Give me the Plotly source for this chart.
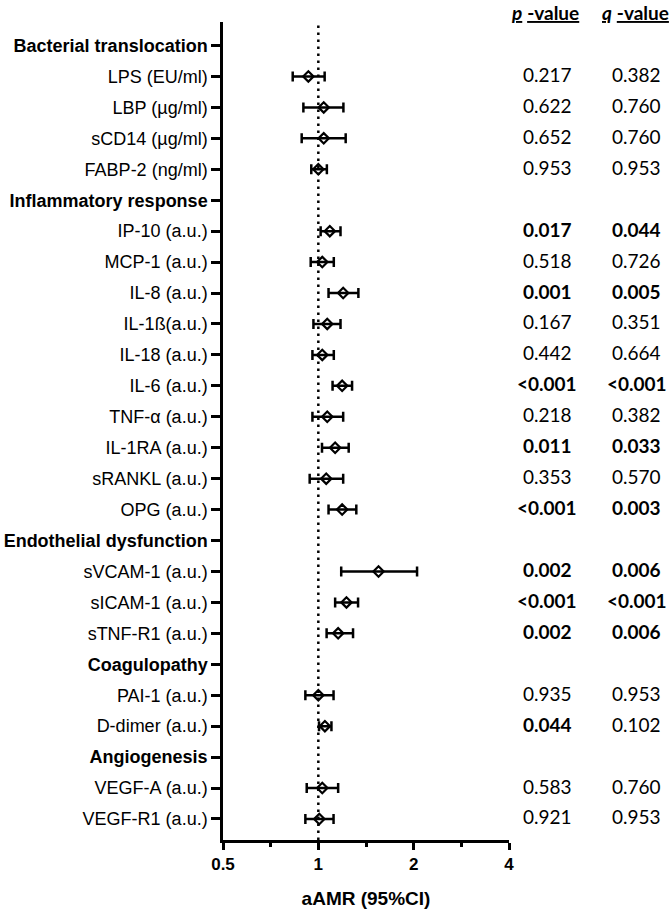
import plotly.graph_objects as go

# ---- data ----
groups = ["Bacterial translocation", "Inflammatory response", "Endothelial dysfunction",
          "Coagulopathy", "Angiogenesis"]
group_sizes = [4, 10, 3, 2, 2]
markers = ["LPS (EU/ml)", "LBP (µg/ml)", "sCD14 (µg/ml)", "FABP-2 (ng/ml)",
           "IP-10 (a.u.)", "MCP-1 (a.u.)", "IL-8 (a.u.)", "IL-1ß(a.u.)", "IL-18 (a.u.)",
           "IL-6 (a.u.)", "TNF-α (a.u.)", "IL-1RA (a.u.)", "sRANKL (a.u.)", "OPG (a.u.)",
           "sVCAM-1 (a.u.)", "sICAM-1 (a.u.)", "sTNF-R1 (a.u.)",
           "PAI-1 (a.u.)", "D-dimer (a.u.)",
           "VEGF-A (a.u.)", "VEGF-R1 (a.u.)"]
aamr = [0.93, 1.04, 1.04, 1.00,
        1.087, 1.029, 1.198, 1.067, 1.029, 1.189, 1.067, 1.130, 1.059, 1.189,
        1.549, 1.227, 1.155,
        1.00, 1.049,
        1.029, 1.007]
ci_low = [0.83, 0.897, 0.886, 0.95,
          1.017, 0.946, 1.077, 0.965, 0.958, 1.109, 0.958, 1.027, 0.939, 1.077,
          1.181, 1.130, 1.062,
          0.91, 1.005,
          0.919, 0.91]
ci_high = [1.047, 1.20, 1.22, 1.064,
           1.175, 1.119, 1.338, 1.175, 1.119, 1.278, 1.198, 1.247, 1.198, 1.318,
           2.05, 1.335, 1.287,
           1.117, 1.10,
           1.155, 1.117]
p_values = ["0.217", "0.622", "0.652", "0.953",
            "0.017", "0.518", "0.001", "0.167", "0.442", "<0.001", "0.218", "0.011", "0.353", "<0.001",
            "0.002", "<0.001", "0.002",
            "0.935", "0.044",
            "0.583", "0.921"]
q_values = ["0.382", "0.760", "0.760", "0.953",
            "0.044", "0.726", "0.005", "0.351", "0.664", "<0.001", "0.382", "0.033", "0.570", "0.003",
            "0.006", "<0.001", "0.006",
            "0.953", "0.102",
            "0.760", "0.953"]
x_ticks = [0.5, 1, 2, 4]
x_minor = [0.7071, 1.4142, 2.8284]

# ---- row layout ----
tickvals, ticktext, marker_rows = [], [], []
r = 0
k = 0
for g, n in zip(groups, group_sizes):
    tickvals.append(r); ticktext.append(f"<b>{g}</b>"); r += 1
    for _ in range(n):
        tickvals.append(r); ticktext.append(markers[k]); marker_rows.append(r)
        r += 1; k += 1
n_rows = r

def is_sig(s):
    return s.startswith("<") or float(s) < 0.05

fig = go.Figure()
fig.add_trace(go.Scatter(
    x=aamr, y=marker_rows, mode="markers",
    marker=dict(symbol="diamond-open", size=8, color="black", line=dict(width=2.2, color="black")),
    error_x=dict(type="data", symmetric=False,
                 array=[h - e for h, e in zip(ci_high, aamr)],
                 arrayminus=[e - l for e, l in zip(aamr, ci_low)],
                 color="black", thickness=2.5, width=5),
    showlegend=False, cliponaxis=False,
))

# reference line at 1
fig.add_shape(type="line", x0=1, x1=1, xref="x", y0=0, y1=1, yref="paper",
              line=dict(color="black", width=2.5, dash="2.5px,4.5px"), layer="below")

val_font = "Lato, 'Open Sans', sans-serif"
xp, xq = 1.1337, 1.4469
for row, p, q in zip(marker_rows, p_values, q_values):
    for xx, s in ((xp, p), (xq, q)):
        txt = f"<b>{s}</b>" if is_sig(s) else s
        fig.add_annotation(x=xx, xref="paper", y=row, yref="y", text=txt, showarrow=False,
                           xanchor="center", yanchor="middle", yshift=2,
                           font=dict(family=val_font, size=19, color="black"))
for xx, letter in ((1.127, "p"), (1.444, "q")):
    fig.add_annotation(x=xx, xref="paper", y=1.0269, yref="paper",
                       text=f"<u><b><i>{letter}</i></b></u> <u><b>-value</b></u>",
                       showarrow=False, xanchor="center", yanchor="top", borderpad=0,
                       font=dict(family=val_font, size=19, color="black"))

fig.update_layout(
    width=672, height=910,
    margin=dict(l=223, r=163, t=22, b=70),
    paper_bgcolor="white", plot_bgcolor="white",
    font=dict(family="'Liberation Sans', Arial, sans-serif", color="black"),
    xaxis=dict(type="log", range=[-0.30103, 0.60206], automargin=False,
               tickmode="array", tickvals=x_ticks, ticktext=[f"<b>{v}</b>" for v in x_ticks],
               tickfont=dict(size=17, color="black"),
               ticks="outside", ticklen=7, tickwidth=2.5, tickcolor="black",
               minor=dict(tickmode="array", tickvals=x_minor, ticks="outside", ticklen=4,
                          tickwidth=2.5, tickcolor="black", showgrid=False),
               showline=True, linewidth=2.5, linecolor="black",
               showgrid=False, zeroline=False,
               title=dict(text="<b>aAMR (95%CI)</b>", font=dict(size=19, color="black"), standoff=19)),
    yaxis=dict(range=[n_rows - 1 + 0.68, -0.76], automargin=False,
               tickmode="array", tickvals=tickvals, ticktext=ticktext,
               tickfont=dict(size=18, color="black"),
               ticks="outside", ticklen=9, tickwidth=2.5, tickcolor="black",
               showline=True, linewidth=2.5, linecolor="black",
               showgrid=False, zeroline=False),
)

# remove the default 8px page margin so the figure fills the window exactly
fig.write_html("out.html", config={"displayModeBar": False},
               post_script="document.body.style.margin='0';document.body.style.overflow='hidden';")
